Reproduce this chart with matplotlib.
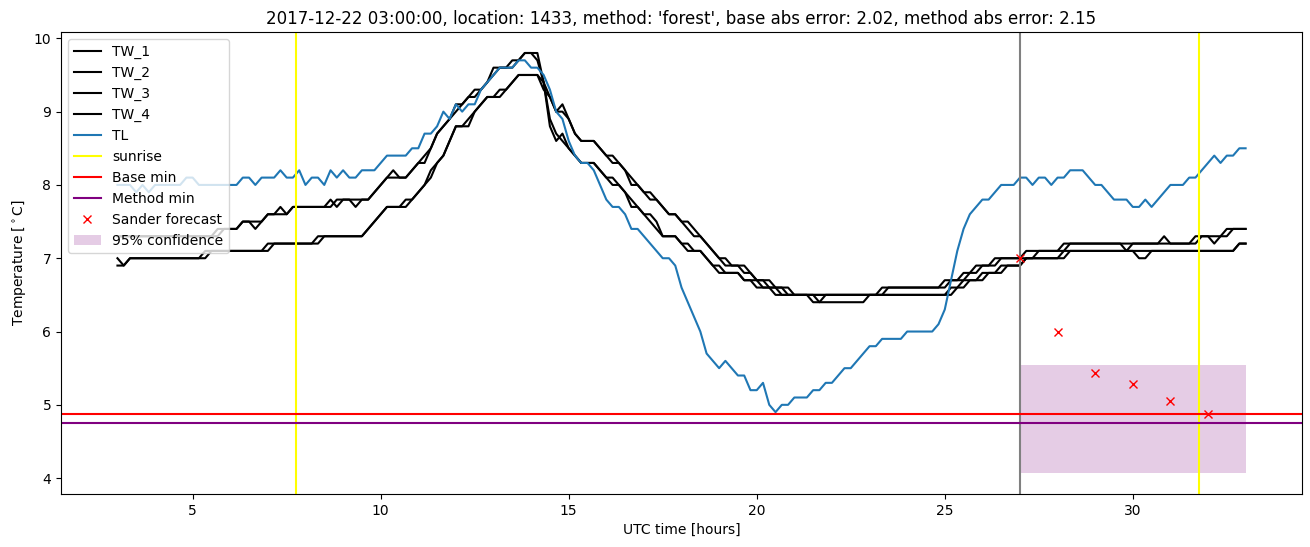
import numpy as np
import matplotlib
matplotlib.use("Agg")
import matplotlib.pyplot as plt

#--- time axis: 10 minute samples from 03:00 (day 1) to 09:00 (day 2) ---#
hours = np.arange(3 * 6, 33 * 6 + 1) / 6.0

#--- station temperatures, one row per hour (6 samples) + last sample ---#
tw_1 = [7.3, 7.3, 7.3, 7.3, 7.3, 7.3,  7.3, 7.3, 7.3, 7.3, 7.3, 7.3,
        7.3, 7.3, 7.3, 7.3, 7.4, 7.4,  7.4, 7.4, 7.5, 7.5, 7.4, 7.5,
        7.6, 7.6, 7.7, 7.6, 7.7, 7.7,  7.7, 7.7, 7.7, 7.7, 7.8, 7.7,
        7.8, 7.8, 7.7, 7.8, 7.8, 7.9,  8.0, 8.1, 8.2, 8.1, 8.1, 8.2,
        8.3, 8.3, 8.5, 8.7, 8.8, 8.9,  9.1, 9.1, 9.2, 9.2, 9.3, 9.4,
        9.6, 9.6, 9.6, 9.6, 9.7, 9.8,  9.8, 9.7, 9.4, 8.8, 8.6, 8.7,
        8.5, 8.4, 8.3, 8.3, 8.3, 8.2,  8.1, 8.1, 8.0, 7.9, 7.8, 7.7,
        7.6, 7.6, 7.5, 7.3, 7.3, 7.3,  7.2, 7.2, 7.1, 7.1, 7.0, 6.9,
        6.9, 6.8, 6.8, 6.8, 6.7, 6.7,  6.7, 6.6, 6.6, 6.6, 6.5, 6.5,
        6.5, 6.5, 6.5, 6.4, 6.4, 6.4,  6.4, 6.4, 6.4, 6.4, 6.4, 6.4,
        6.5, 6.5, 6.5, 6.5, 6.5, 6.5,  6.5, 6.5, 6.5, 6.5, 6.5, 6.5,
        6.5, 6.6, 6.6, 6.7, 6.7, 6.7,  6.8, 6.8, 6.8, 6.9, 6.9, 6.9,
        6.9, 7.0, 7.0, 7.0, 7.0, 7.0,  7.0, 7.1, 7.1, 7.1, 7.1, 7.1,
        7.1, 7.1, 7.1, 7.1, 7.1, 7.1,  7.1, 7.0, 7.0, 7.1, 7.1, 7.1,
        7.1, 7.1, 7.1, 7.1, 7.1, 7.1,  7.1, 7.1, 7.1, 7.1, 7.1, 7.2,
        7.2]
tw_2 = [7.3, 7.3, 7.3, 7.3, 7.3, 7.3,  7.3, 7.3, 7.3, 7.3, 7.3, 7.3,
        7.3, 7.3, 7.3, 7.3, 7.3, 7.4,  7.4, 7.4, 7.5, 7.5, 7.5, 7.5,
        7.6, 7.6, 7.6, 7.6, 7.7, 7.7,  7.7, 7.7, 7.7, 7.7, 7.7, 7.8,
        7.8, 7.8, 7.8, 7.8, 7.8, 7.9,  8.0, 8.1, 8.1, 8.1, 8.1, 8.2,
        8.3, 8.4, 8.5, 8.7, 8.8, 8.9,  9.0, 9.1, 9.2, 9.3, 9.3, 9.4,
        9.5, 9.6, 9.6, 9.7, 9.7, 9.8,  9.8, 9.8, 9.4, 8.9, 8.7, 8.6,
        8.5, 8.4, 8.3, 8.3, 8.3, 8.2,  8.1, 8.0, 8.0, 7.9, 7.7, 7.7,
        7.6, 7.5, 7.4, 7.3, 7.3, 7.3,  7.2, 7.1, 7.1, 7.1, 7.0, 6.9,
        6.8, 6.8, 6.8, 6.8, 6.7, 6.7,  6.6, 6.6, 6.6, 6.5, 6.5, 6.5,
        6.5, 6.5, 6.5, 6.5, 6.4, 6.5,  6.5, 6.5, 6.5, 6.5, 6.5, 6.5,
        6.5, 6.5, 6.5, 6.5, 6.5, 6.5,  6.5, 6.5, 6.5, 6.5, 6.5, 6.5,
        6.5, 6.5, 6.6, 6.6, 6.7, 6.7,  6.7, 6.8, 6.8, 6.8, 6.9, 6.9,
        6.9, 7.0, 7.0, 7.0, 7.0, 7.0,  7.0, 7.0, 7.1, 7.1, 7.1, 7.1,
        7.1, 7.1, 7.1, 7.1, 7.1, 7.1,  7.1, 7.1, 7.1, 7.1, 7.1, 7.1,
        7.1, 7.1, 7.1, 7.1, 7.1, 7.1,  7.1, 7.1, 7.1, 7.1, 7.1, 7.2,
        7.2]
tw_3 = [7.0, 6.9, 7.0, 7.0, 7.0, 7.0,  7.0, 7.0, 7.0, 7.0, 7.0, 7.0,
        7.0, 7.0, 7.1, 7.1, 7.1, 7.1,  7.1, 7.1, 7.1, 7.1, 7.1, 7.1,
        7.2, 7.2, 7.2, 7.2, 7.2, 7.2,  7.2, 7.2, 7.3, 7.3, 7.3, 7.3,
        7.3, 7.3, 7.3, 7.3, 7.4, 7.5,  7.6, 7.7, 7.7, 7.7, 7.8, 7.8,
        7.9, 8.0, 8.1, 8.3, 8.4, 8.6,  8.8, 8.8, 8.8, 9.0, 9.1, 9.2,
        9.2, 9.2, 9.3, 9.4, 9.5, 9.5,  9.5, 9.5, 9.4, 9.2, 9.0, 9.1,
        8.9, 8.7, 8.6, 8.6, 8.6, 8.5,  8.4, 8.4, 8.3, 8.2, 8.1, 8.0,
        7.9, 7.9, 7.8, 7.7, 7.6, 7.6,  7.5, 7.5, 7.4, 7.3, 7.2, 7.1,
        7.0, 7.0, 6.9, 6.9, 6.9, 6.8,  6.7, 6.7, 6.7, 6.6, 6.6, 6.6,
        6.5, 6.5, 6.5, 6.5, 6.5, 6.5,  6.5, 6.5, 6.5, 6.5, 6.5, 6.5,
        6.5, 6.5, 6.6, 6.6, 6.6, 6.6,  6.6, 6.6, 6.6, 6.6, 6.6, 6.6,
        6.7, 6.7, 6.7, 6.8, 6.8, 6.9,  6.9, 6.9, 7.0, 7.0, 7.0, 7.0,
        7.0, 7.1, 7.1, 7.1, 7.1, 7.1,  7.1, 7.2, 7.2, 7.2, 7.2, 7.2,
        7.2, 7.2, 7.2, 7.2, 7.2, 7.1,  7.2, 7.2, 7.2, 7.2, 7.2, 7.3,
        7.2, 7.2, 7.2, 7.2, 7.3, 7.3,  7.3, 7.2, 7.3, 7.4, 7.4, 7.4,
        7.4]
tw_4 = [6.9, 6.9, 7.0, 7.0, 7.0, 7.0,  7.0, 7.0, 7.0, 7.0, 7.0, 7.0,
        7.0, 7.0, 7.0, 7.1, 7.1, 7.1,  7.1, 7.1, 7.1, 7.1, 7.1, 7.1,
        7.1, 7.2, 7.2, 7.2, 7.2, 7.2,  7.2, 7.2, 7.2, 7.3, 7.3, 7.3,
        7.3, 7.3, 7.3, 7.3, 7.4, 7.5,  7.6, 7.7, 7.7, 7.7, 7.7, 7.8,
        7.9, 8.0, 8.2, 8.3, 8.4, 8.6,  8.8, 8.8, 8.9, 9.0, 9.1, 9.2,
        9.2, 9.3, 9.3, 9.4, 9.5, 9.5,  9.5, 9.5, 9.3, 9.2, 9.0, 9.0,
        8.9, 8.7, 8.6, 8.6, 8.6, 8.5,  8.4, 8.3, 8.3, 8.2, 8.0, 8.0,
        7.9, 7.8, 7.8, 7.7, 7.6, 7.6,  7.5, 7.4, 7.3, 7.3, 7.2, 7.1,
        7.0, 6.9, 6.9, 6.9, 6.8, 6.8,  6.7, 6.7, 6.6, 6.6, 6.6, 6.5,
        6.5, 6.5, 6.5, 6.5, 6.5, 6.5,  6.5, 6.5, 6.5, 6.5, 6.5, 6.5,
        6.5, 6.5, 6.5, 6.6, 6.6, 6.6,  6.6, 6.6, 6.6, 6.6, 6.6, 6.6,
        6.6, 6.7, 6.7, 6.7, 6.8, 6.8,  6.9, 6.9, 6.9, 7.0, 7.0, 7.0,
        7.0, 7.0, 7.0, 7.1, 7.1, 7.1,  7.1, 7.1, 7.2, 7.2, 7.2, 7.2,
        7.2, 7.2, 7.2, 7.2, 7.2, 7.2,  7.2, 7.2, 7.2, 7.2, 7.2, 7.2,
        7.2, 7.2, 7.2, 7.2, 7.2, 7.3,  7.3, 7.3, 7.3, 7.3, 7.4, 7.4,
        7.4]
tl = [8.0, 8.0, 8.0, 7.9, 8.0, 7.9,  8.0, 8.0, 8.0, 8.0, 8.0, 8.1,
      8.1, 8.0, 8.0, 8.0, 8.0, 8.0,  8.0, 8.0, 8.1, 8.1, 8.0, 8.1,
      8.1, 8.1, 8.2, 8.1, 8.1, 8.2,  8.0, 8.1, 8.1, 8.0, 8.2, 8.1,
      8.2, 8.1, 8.1, 8.2, 8.2, 8.2,  8.3, 8.4, 8.4, 8.4, 8.4, 8.5,
      8.5, 8.7, 8.7, 8.8, 9.0, 8.9,  9.1, 9.0, 9.1, 9.1, 9.3, 9.4,
      9.5, 9.6, 9.6, 9.6, 9.7, 9.7,  9.6, 9.6, 9.5, 9.3, 9.0, 8.9,
      8.6, 8.4, 8.3, 8.3, 8.2, 8.0,  7.8, 7.7, 7.7, 7.6, 7.4, 7.4,
      7.3, 7.2, 7.1, 7.0, 7.0, 6.9,  6.6, 6.4, 6.2, 6.0, 5.7, 5.6,
      5.5, 5.6, 5.5, 5.4, 5.4, 5.2,  5.2, 5.3, 5.0, 4.9, 5.0, 5.0,
      5.1, 5.1, 5.1, 5.2, 5.2, 5.3,  5.3, 5.4, 5.5, 5.5, 5.6, 5.7,
      5.8, 5.8, 5.9, 5.9, 5.9, 5.9,  6.0, 6.0, 6.0, 6.0, 6.0, 6.1,
      6.3, 6.7, 7.1, 7.4, 7.6, 7.7,  7.8, 7.8, 7.9, 8.0, 8.0, 8.0,
      8.1, 8.1, 8.0, 8.1, 8.1, 8.0,  8.1, 8.1, 8.2, 8.2, 8.2, 8.1,
      8.0, 8.0, 7.9, 7.8, 7.8, 7.8,  7.7, 7.7, 7.8, 7.7, 7.8, 7.9,
      8.0, 8.0, 8.0, 8.1, 8.1, 8.2,  8.3, 8.4, 8.3, 8.4, 8.4, 8.5,
      8.5]

#--- forecast info ---#
sunrise_hours = [7.76, 31.76]
forecast_start = 27.0
forecast_hours = [27, 28, 29, 30, 31, 32]
forecast_temp = [7.0, 6.0, 5.43, 5.28, 5.05, 4.88]
base_min = 4.88
method_min = 4.75
conf_hours = [27.0, 33.0]
conf_low = 4.07
conf_high = 5.54

title = ("2017-12-22 03:00:00, location: 1433, method: 'forest', "
         "base abs error: 2.02, method abs error: 2.15")

#--- plot ---#
fig = plt.figure(figsize=(13.1, 5.47), dpi=100)
ax = fig.add_axes([0.0466, 0.0969, 0.9473, 0.8446])

for name, vals in zip(["TW_1", "TW_2", "TW_3", "TW_4"], [tw_1, tw_2, tw_3, tw_4]):
    ax.plot(hours, vals, color="black", label=name)
ax.plot(hours, tl, color="tab:blue", label="TL")

ax.axvline(sunrise_hours[0], color="yellow", label="sunrise")
ax.axvline(sunrise_hours[1], color="yellow")
ax.axvline(forecast_start, color="gray")
ax.axhline(base_min, color="red", label="Base min")
ax.axhline(method_min, color="purple", label="Method min")
ax.plot(forecast_hours, forecast_temp, "x", color="red", label="Sander forecast")
ax.fill_between(conf_hours, conf_low, conf_high, color="purple", alpha=0.2,
                linewidth=0, label="95% confidence")

ax.set_title(title)
ax.set_xlabel("UTC time [hours]")
ax.set_ylabel(r"Temperature [$^\circ$C]")
ax.legend(loc="upper left")

fig.savefig("out.png", dpi=100)
